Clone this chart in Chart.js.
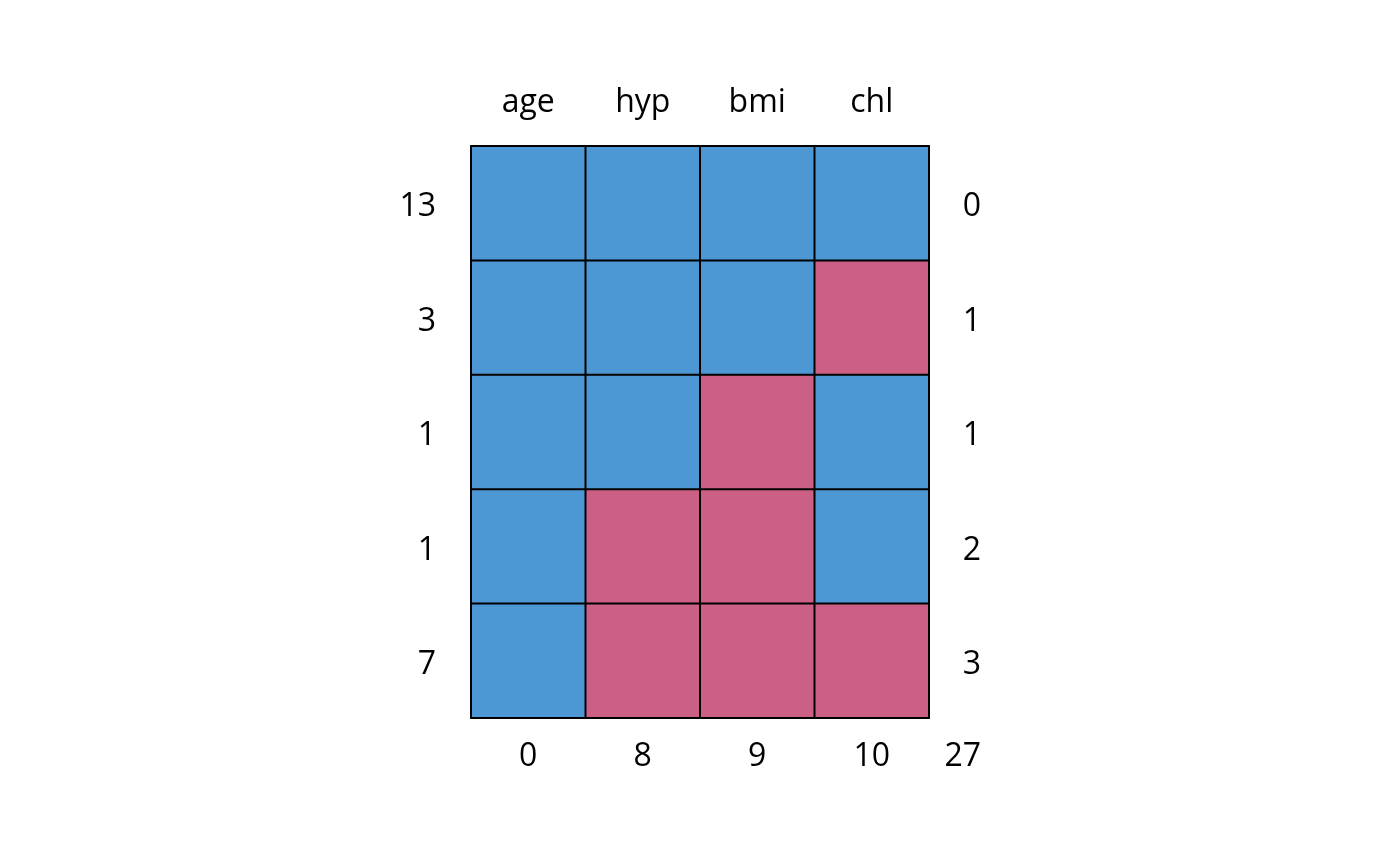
<!DOCTYPE html>
<html>
<head>
<meta charset="utf-8">
<title>Missing data pattern</title>
<script src="https://cdn.jsdelivr.net/npm/chart.js@4.4.1/dist/chart.umd.min.js"></script>
<style>
    html, body { margin: 0; padding: 0; background: #ffffff; }
    #wrap { width: 1400px; height: 866px; }
</style>
</head>
<body>
<div id="wrap"><canvas id="patternChart"></canvas></div>
<script>
// variables (columns) and how many values each one is missing
const varNames = ['age', 'hyp', 'bmi', 'chl'];
const colMissing = [0, 8, 9, 10];
const totalMissing = 27;

// one row per pattern: number of cases, 1 = observed, 0 = missing
const rowCounts = [13, 3, 1, 1, 7];
const rowMissing = [0, 1, 1, 2, 3];
const patterns = [
    [1, 1, 1, 1],
    [1, 1, 1, 0],
    [1, 1, 0, 1],
    [1, 0, 0, 1],
    [1, 0, 0, 0]
];

const observedColor = 'rgb(77, 152, 212)';
const missingColor = 'rgb(204, 95, 133)';
const labelFont = { family: "'Open Sans', 'Noto Sans', sans-serif", size: 32 };
const bottomPad = 20;

// each pattern row becomes one stacked dataset of unit-height cells
const datasets = patterns.map((row, i) => ({
    label: 'pattern ' + (i + 1),
    data: row.map(() => 1),
    backgroundColor: row.map(v => v ? observedColor : missingColor),
    borderColor: '#000000',
    borderWidth: 1.5,
    borderSkipped: false,
    inflateAmount: 0.5,
    barPercentage: 1,
    categoryPercentage: 1
}));

// labels sit a touch below the middle of each row, like the original
const rowTicks = rowCounts.map((_, i) => ({ value: i + 0.535 }));

// grand total sits under the right-hand column of numbers
const totalLabel = {
    id: 'totalLabel',
    afterDraw(chart) {
        const { ctx, scales } = chart;
        ctx.save();
        ctx.font = `${labelFont.size}px ${labelFont.family}`;
        ctx.fillStyle = '#000000';
        ctx.textAlign = 'right';
        ctx.textBaseline = 'middle';
        ctx.fillText(String(totalMissing), scales.yRight.right, scales.x.top + bottomPad + labelFont.size * 0.6);
        ctx.restore();
    }
};

const ctx = document.getElementById('patternChart').getContext('2d');
new Chart(ctx, {
    type: 'bar',
    data: {
        labels: colMissing.map(String),
        datasets: datasets
    },
    options: {
        responsive: true,
        maintainAspectRatio: false,
        animation: false,
        layout: { padding: { left: 0, right: 419, top: 0, bottom: 0 } },
        plugins: {
            legend: { display: false },
            tooltip: { enabled: false }
        },
        scales: {
            x: {
                position: 'bottom',
                stacked: true,
                grid: { display: false, drawTicks: false },
                border: { display: true, color: '#000000', width: 2 },
                ticks: { color: '#000000', font: labelFont, padding: bottomPad, maxRotation: 0 },
                afterFit(scale) { scale.height = 148; }
            },
            xTop: {
                type: 'category',
                position: 'top',
                labels: varNames,
                offset: true,
                grid: { display: false, drawTicks: false },
                border: { display: true, color: '#000000', width: 2 },
                ticks: { color: '#000000', font: labelFont, padding: 24, maxRotation: 0 },
                afterFit(scale) { scale.height = 146; }
            },
            y: {
                position: 'left',
                stacked: true,
                min: 0,
                max: patterns.length,
                reverse: true,
                grid: { display: false, drawTicks: false },
                border: { display: true, color: '#000000', width: 2 },
                afterBuildTicks(scale) { scale.ticks = rowTicks.map(t => ({ ...t })); },
                ticks: {
                    color: '#000000',
                    font: labelFont,
                    padding: 35,
                    callback: value => rowCounts[Math.floor(value)]
                },
                afterFit(scale) { scale.width = 471; }
            },
            yRight: {
                type: 'linear',
                position: 'right',
                min: 0,
                max: patterns.length,
                reverse: true,
                grid: { display: false, drawTicks: false },
                border: { display: true, color: '#000000', width: 2 },
                afterBuildTicks(scale) { scale.ticks = rowTicks.map(t => ({ ...t })); },
                ticks: {
                    color: '#000000',
                    font: labelFont,
                    crossAlign: 'far',
                    callback: value => rowMissing[Math.floor(value)]
                },
                afterFit(scale) { scale.width = 52; }
            }
        }
    },
    plugins: [totalLabel]
});
</script>
</body>
</html>
